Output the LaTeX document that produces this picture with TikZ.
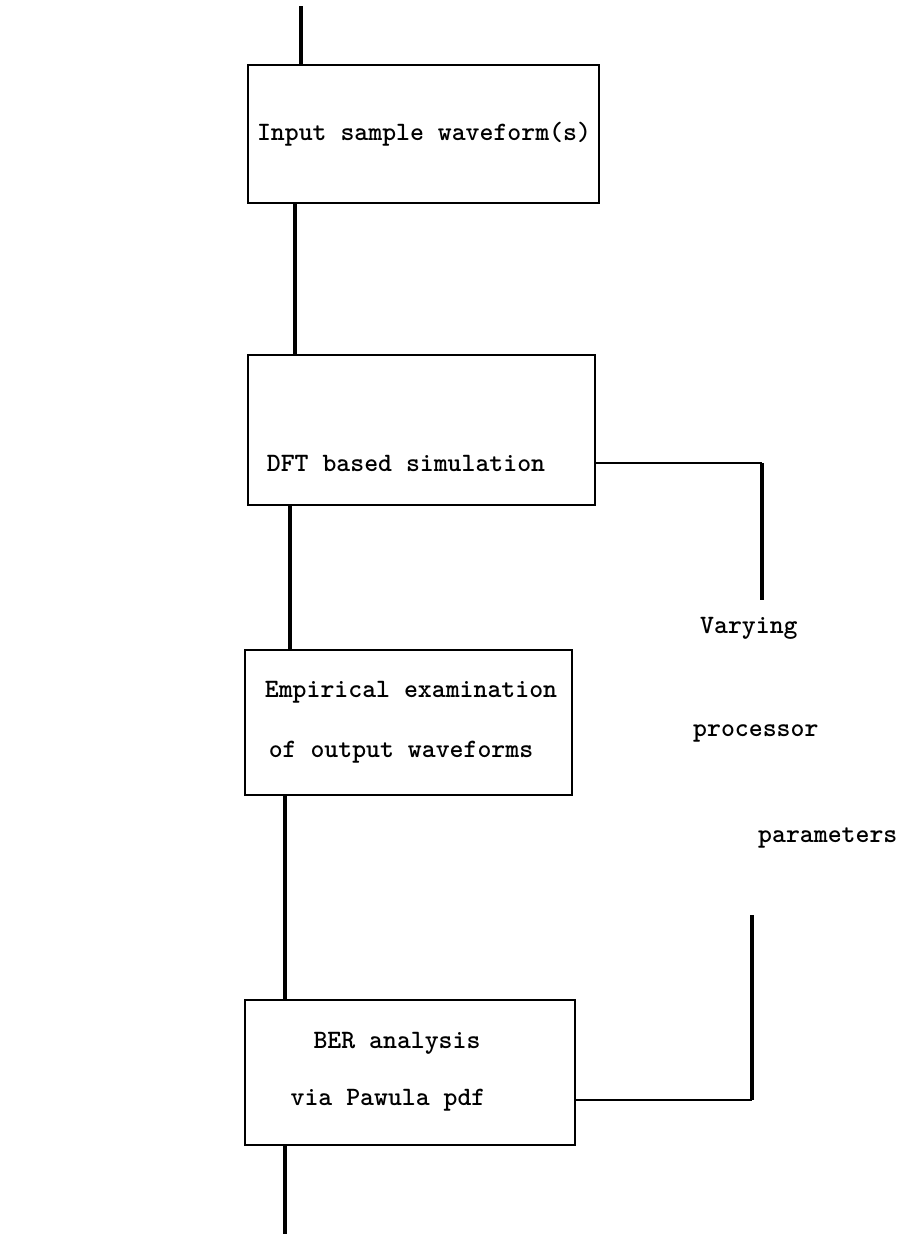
\documentclass[tikz,border=0pt]{standalone}
\usepackage{fontspec}
\newfontfamily\twbold{lmmonolt10-bold.otf}
\begin{document}
\begin{tikzpicture}[x=1pt,y=-1pt,
  font=\twbold\fontsize{26.5}{30}\selectfont,
  box/.style={draw,line width=2pt,inner sep=0pt},
  txt/.style={inner sep=0pt},
  vline/.style={line width=3.5pt},
  hline/.style={line width=2pt}]
\useasboundingbox (0,0) rectangle (909,1234);
\fill[white] (0,0) rectangle (909,1234);
% boxes
\node[box,minimum width=351pt,minimum height=138pt] (b1) at (423.5,134) {};
\node[box,minimum width=347pt,minimum height=150pt] (b2) at (421.5,430) {};
\node[box,minimum width=327pt,minimum height=145pt] (b3) at (408.5,722.5) {};
\node[box,minimum width=330pt,minimum height=145pt] (b4) at (410,1072.5) {};
% texts
\node[txt] (t1) at (424,134) {Input sample waveform(s)};
\node[txt] (t2) at (406,463) {DFT based simulation};
\node[txt] (t3a) at (411,692) {Empirical examination};
\node[txt] (t3b) at (401,752) {of output waveforms};
\node[txt] (t4a) at (397,1043) {BER analysis};
\node[txt] (t4b) at (388,1100) {via Pawula pdf};
\node[txt,anchor=west] (v1) at (700,628) {Varying};
\node[txt,anchor=west] (v2) at (693,733) {processor};
\node[txt,anchor=west] (v3) at (758,838) {parameters};
% connectors
\coordinate (top) at (301,6);
\draw[vline] (top) -- (top |- b1.north);
\draw[vline] (295,0 |- b1.south) -- (295,0 |- b2.north);
\draw[vline] (290,0 |- b2.south) -- (290,0 |- b3.north);
\draw[vline] (285,0 |- b3.south) -- (285,0 |- b4.north);
\coordinate (bot) at (285,1234);
\draw[vline] (bot |- b4.south) -- (bot);
\coordinate (r1) at (762,463);
\coordinate (r1e) at (762,600);
\draw[hline] (b2.east |- r1) -- (r1);
\draw[vline] (r1) -- (r1e);
\coordinate (r2) at (752,1100);
\coordinate (r2e) at (752,915);
\draw[hline] (b4.east |- r2) -- (r2);
\draw[vline] (r2) -- (r2e);
\end{tikzpicture}
\end{document}
